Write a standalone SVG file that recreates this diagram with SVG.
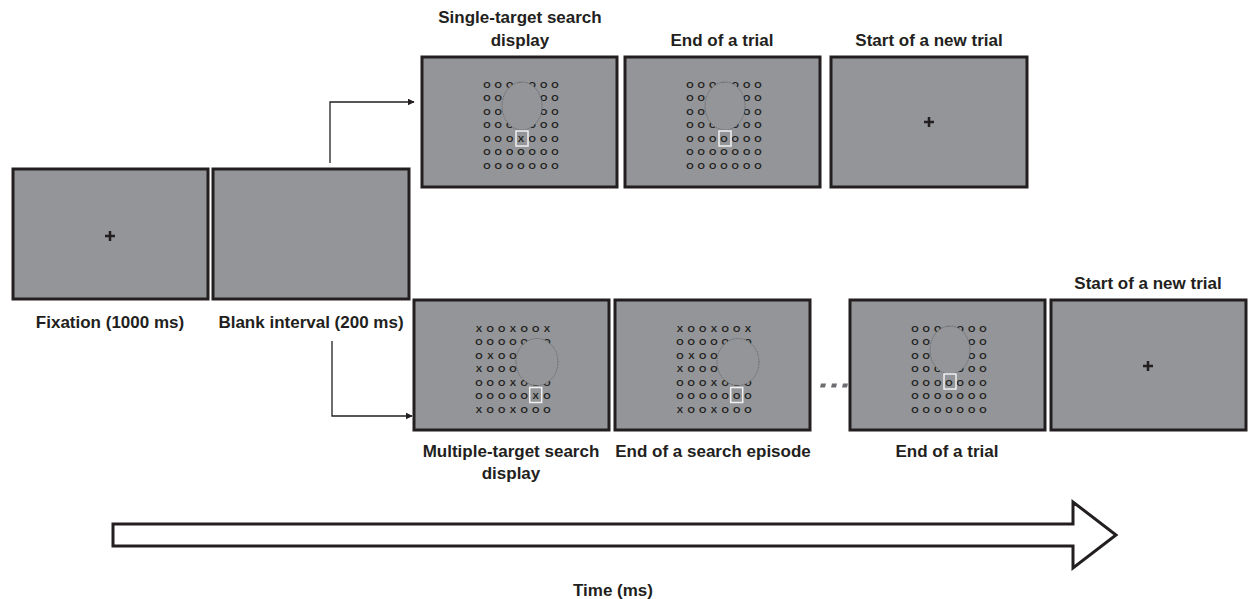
<svg xmlns="http://www.w3.org/2000/svg" width="1248" height="599" viewBox="0 0 1248 599">
<style>
.scr{fill:#939598;stroke:#231f20;stroke-width:3}
.lbl{font-family:"Liberation Sans",Arial,sans-serif;font-weight:bold;font-size:17px;fill:#231f20;text-anchor:middle}
.g{font-family:"Liberation Sans",Arial,sans-serif;font-weight:bold;font-size:9.5px;fill:#231f20;text-anchor:middle}
.occ{fill:#939598;stroke:#58595b;stroke-width:0.7;stroke-dasharray:1.5 1}
.sq{fill:none;stroke:#f1f1f2;stroke-width:1.5}
.plus{stroke:#231f20;stroke-width:2.5;fill:none}
.conn{fill:none;stroke:#231f20;stroke-width:1.3}
</style>
<defs>
<marker id="ah" viewBox="0 0 10 10" refX="9" refY="5" markerWidth="7" markerHeight="7" markerUnits="userSpaceOnUse" orient="auto">
<path d="M0,0 L10,5 L0,10 z" fill="#231f20"/>
</marker>
</defs>

<g id="fixation">
<rect class="scr" x="13" y="169" width="195" height="130"/>
<path class="plus" d="M105,236 h10 M110,231 v10"/>
<text class="lbl" x="110" y="328">Fixation (1000 ms)</text>
</g>

<g id="blank">
<rect class="scr" x="213" y="169" width="196" height="130"/>
<text class="lbl" x="311" y="328">Blank interval (200 ms)</text>
</g>

<g id="single-target">
<text class="lbl" x="520" y="23">Single-target search</text>
<text class="lbl" x="520" y="46">display</text>
<g transform="translate(422,57)">
<rect class="scr" x="0" y="0" width="195" height="130"/>
<text class="g" x="65 76.3 87.7 99 110.3 121.7 133" y="30.5">OOOOOOO</text>
<text class="g" x="65 76.3 87.7 99 110.3 121.7 133" y="44">OOOOOOO</text>
<text class="g" x="65 76.3 87.7 99 110.3 121.7 133" y="57.5">OOOOOOO</text>
<text class="g" x="65 76.3 87.7 99 110.3 121.7 133" y="71">OOOOOOO</text>
<text class="g" x="65 76.3 87.7 99 110.3 121.7 133" y="84.5">OOOXOOO</text>
<text class="g" x="65 76.3 87.7 99 110.3 121.7 133" y="98">OOOOOOO</text>
<text class="g" x="65 76.3 87.7 99 110.3 121.7 133" y="111.5">OOOOOOO</text>
<ellipse class="occ" cx="100" cy="49" rx="20" ry="24"/>
<rect class="sq" x="94" y="74" width="12" height="15"/>
</g>
</g>

<g id="end-trial-top">
<text class="lbl" x="722" y="46">End of a trial</text>
<g transform="translate(625,57)">
<rect class="scr" x="0" y="0" width="195" height="130"/>
<text class="g" x="65 76.3 87.7 99 110.3 121.7 133" y="30.5">OOOOOOO</text>
<text class="g" x="65 76.3 87.7 99 110.3 121.7 133" y="44">OOOOOOO</text>
<text class="g" x="65 76.3 87.7 99 110.3 121.7 133" y="57.5">OOOOOOO</text>
<text class="g" x="65 76.3 87.7 99 110.3 121.7 133" y="71">OOOOOOO</text>
<text class="g" x="65 76.3 87.7 99 110.3 121.7 133" y="84.5">OOOOOOO</text>
<text class="g" x="65 76.3 87.7 99 110.3 121.7 133" y="98">OOOOOOO</text>
<text class="g" x="65 76.3 87.7 99 110.3 121.7 133" y="111.5">OOOOOOO</text>
<ellipse class="occ" cx="100" cy="49" rx="20" ry="24"/>
<rect class="sq" x="94" y="74" width="12" height="15"/>
</g>
</g>

<g id="start-new-top">
<text class="lbl" x="929" y="46">Start of a new trial</text>
<rect class="scr" x="831" y="57" width="196" height="130"/>
<path class="plus" d="M924,122 h10 M929,117 v10"/>
</g>

<g id="multiple-target">
<text class="lbl" x="511" y="457">Multiple-target search</text>
<text class="lbl" x="511" y="479">display</text>
<g transform="translate(414,300)">
<rect class="scr" x="0" y="0" width="195" height="130"/>
<text class="g" x="65 76.3 87.7 99 110.3 121.7 133" y="31.5">XOOXOOX</text>
<text class="g" x="65 76.3 87.7 99 110.3 121.7 133" y="45">OOOOOOO</text>
<text class="g" x="65 76.3 87.7 99 110.3 121.7 133" y="58.5">OXOOOOO</text>
<text class="g" x="65 76.3 87.7 99 110.3 121.7 133" y="72">XOOOOOO</text>
<text class="g" x="65 76.3 87.7 99 110.3 121.7 133" y="85.5">OOOXOOO</text>
<text class="g" x="65 76.3 87.7 99 110.3 121.7 133" y="99">OOOOOXO</text>
<text class="g" x="65 76.3 87.7 99 110.3 121.7 133" y="112.5">XOOXOOO</text>
<ellipse class="occ" cx="123" cy="62" rx="21" ry="23.5"/>
<rect class="sq" x="115.7" y="87.5" width="12" height="15"/>
</g>
</g>

<g id="end-search-episode">
<text class="lbl" x="713" y="457">End of a search episode</text>
<g transform="translate(615,300)">
<rect class="scr" x="0" y="0" width="195" height="130"/>
<text class="g" x="65 76.3 87.7 99 110.3 121.7 133" y="31.5">XOOXOOX</text>
<text class="g" x="65 76.3 87.7 99 110.3 121.7 133" y="45">OOOOOOO</text>
<text class="g" x="65 76.3 87.7 99 110.3 121.7 133" y="58.5">OXOOOOO</text>
<text class="g" x="65 76.3 87.7 99 110.3 121.7 133" y="72">XOOOOOO</text>
<text class="g" x="65 76.3 87.7 99 110.3 121.7 133" y="85.5">OOOXOOO</text>
<text class="g" x="65 76.3 87.7 99 110.3 121.7 133" y="99">OOOOOOO</text>
<text class="g" x="65 76.3 87.7 99 110.3 121.7 133" y="112.5">XOOXOOO</text>
<ellipse class="occ" cx="123" cy="62" rx="21" ry="23.5"/>
<rect class="sq" x="115.7" y="87.5" width="12" height="15"/>
</g>
</g>

<g id="ellipsis">
<path d="M821,383.5 h5 l-1,4 h-5 z M832,383.5 h5 l-1,4 h-5 z M843,383.5 h5 l-1,4 h-5 z" fill="#6d6e71"/>
</g>

<g id="end-trial-bottom">
<text class="lbl" x="947" y="457">End of a trial</text>
<g transform="translate(850,300)">
<rect class="scr" x="0" y="0" width="195" height="130"/>
<text class="g" x="65 76.3 87.7 99 110.3 121.7 133" y="31.5">OOOOOOO</text>
<text class="g" x="65 76.3 87.7 99 110.3 121.7 133" y="45">OOOOOOO</text>
<text class="g" x="65 76.3 87.7 99 110.3 121.7 133" y="58.5">OOOOOOO</text>
<text class="g" x="65 76.3 87.7 99 110.3 121.7 133" y="72">OOOOOOO</text>
<text class="g" x="65 76.3 87.7 99 110.3 121.7 133" y="85.5">OOOOOOO</text>
<text class="g" x="65 76.3 87.7 99 110.3 121.7 133" y="99">OOOOOOO</text>
<text class="g" x="65 76.3 87.7 99 110.3 121.7 133" y="112.5">OOOOOOO</text>
<ellipse class="occ" cx="100" cy="50" rx="20" ry="24"/>
<rect class="sq" x="94" y="74" width="12" height="15"/>
</g>
</g>

<g id="start-new-bottom">
<text class="lbl" x="1148" y="289">Start of a new trial</text>
<rect class="scr" x="1051" y="300" width="195" height="130"/>
<path class="plus" d="M1143,366 h10 M1148,361 v10"/>
</g>

<g id="connectors">
<polyline class="conn" points="330,163 330,102 414,102" marker-end="url(#ah)"/>
<polyline class="conn" points="332,341 332,416 412,416" marker-end="url(#ah)"/>
</g>

<g id="time-axis">
<polygon points="113,524 1073,524 1073,502 1116,535 1073,568 1073,546 113,546" fill="#ffffff" stroke="#231f20" stroke-width="3" stroke-linejoin="miter"/>
<text class="lbl" x="613" y="596">Time (ms)</text>
</g>
</svg>
